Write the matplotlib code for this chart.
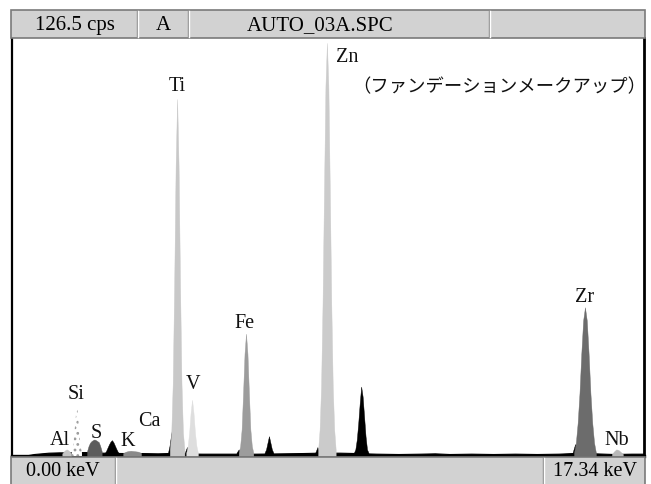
import matplotlib
matplotlib.use("Agg")
import matplotlib.pyplot as plt
from matplotlib.patches import Rectangle

# ---------------- data ----------------
full_scale_cps = 126.5
e_max_keV = 17.34
header_texts = ["126.5 cps", "A", "AUTO_03A.SPC"]
footer_texts = ["0.00 keV", "17.34 keV"]
note_text = "（ファンデーションメークアップ）"

# continuum (black)
bg_keV = [0.30, 0.60, 1.00, 1.30, 1.60, 2.00, 2.50, 3.00, 3.50, 4.00, 4.30, 4.60,
          5.20, 5.80, 6.20, 6.70, 7.40, 8.00, 8.40, 9.00, 9.40, 10.0, 10.6, 11.2,
          11.6, 12.0, 12.6, 13.2, 13.8, 14.4, 15.0, 15.4, 16.0, 16.5, 17.0, 17.34]
bg_cps = [0.0, 0.6, 1.0, 1.1, 1.1, 1.2, 1.0, 0.9, 0.9, 0.8, 0.9, 0.8,
          0.7, 0.7, 0.7, 0.7, 0.8, 0.9, 1.0, 1.0, 0.9, 0.7, 0.6, 0.7,
          0.8, 0.6, 0.7, 0.6, 0.7, 0.6, 0.7, 0.9, 0.8, 0.6, 0.7, 0.7]

# black (unassigned) peaks
k_keV = [2.54, 2.58, 2.62, 2.66, 2.70, 2.74, 2.78, 2.82, 2.86, 2.90, 2.94]
k_cps = [0.8, 1.5, 2.5, 3.5, 4.3, 4.8, 4.2, 3.2, 2.2, 1.3, 0.8]
spike1_keV = [4.28, 4.32, 4.36, 4.40, 4.44, 4.48]
spike1_cps = [1.0, 3.0, 6.0, 8.8, 6.0, 3.0]
spike2_keV = [4.74, 4.80, 4.86]
spike2_cps = [1.0, 2.7, 1.5]
fe_l_keV = [6.16, 6.22, 6.28]
fe_l_cps = [1.0, 2.0, 1.0]
feb_keV = [6.93, 6.97, 7.01, 7.05, 7.09, 7.13, 7.17]
feb_cps = [1.0, 2.0, 4.0, 6.0, 4.0, 2.0, 1.0]
zn_l_keV = [8.32, 8.38, 8.44]
zn_l_cps = [1.0, 2.7, 1.0]
znb_keV = [9.38, 9.42, 9.46, 9.50, 9.54, 9.58, 9.62, 9.66, 9.70, 9.74, 9.78]
znb_cps = [1.0, 2.0, 5.0, 10.0, 16.0, 21.0, 18.0, 12.0, 6.0, 2.0, 1.0]
zr_l_keV = [15.38, 15.45, 15.52]
zr_l_cps = [1.0, 3.6, 1.0]

# coloured element peaks
al_keV = [1.38, 1.44, 1.50, 1.56, 1.62]
al_cps = [0.8, 1.6, 2.0, 1.6, 0.8]
si_keV = [1.64, 1.68, 1.72, 1.76, 1.80, 1.84, 1.88, 1.92]
si_cps = [1.0, 3.0, 8.0, 13.0, 14.0, 8.0, 3.0, 1.0]
s_keV = [2.06, 2.10, 2.14, 2.18, 2.22, 2.26, 2.30, 2.34, 2.38, 2.42, 2.46]
s_cps = [1.5, 3.0, 4.0, 4.5, 4.8, 5.0, 4.8, 4.5, 4.2, 3.0, 1.5]
kk_keV = [3.05, 3.12, 3.19, 3.26, 3.33, 3.40, 3.47, 3.54]
kk_cps = [0.9, 1.3, 1.5, 1.6, 1.5, 1.4, 1.3, 0.9]
ti_keV = [4.33, 4.37, 4.41, 4.45, 4.49, 4.53, 4.57, 4.61, 4.65, 4.69, 4.73]
ti_cps = [2.0, 7.0, 22.0, 52.0, 88.0, 108.0, 88.0, 52.0, 22.0, 7.0, 2.0]
v_keV = [4.78, 4.82, 4.86, 4.90, 4.94, 4.98, 5.02, 5.06, 5.10]
v_cps = [1.0, 3.0, 7.0, 13.0, 17.0, 13.0, 7.0, 3.0, 1.0]
fe_keV = [6.22, 6.26, 6.30, 6.34, 6.38, 6.42, 6.46, 6.50, 6.54, 6.58, 6.62]
fe_cps = [1.0, 3.0, 8.0, 19.0, 31.0, 37.0, 31.0, 19.0, 8.0, 3.0, 1.0]
zn_keV = [8.40, 8.44, 8.48, 8.52, 8.56, 8.60, 8.64, 8.68, 8.72, 8.76, 8.80, 8.84, 8.88]
zn_cps = [2.0, 8.0, 21.0, 46.0, 80.0, 112.0, 125.0, 112.0, 80.0, 46.0, 21.0, 8.0, 2.0]
zr_keV = [15.42, 15.47, 15.52, 15.57, 15.62, 15.67, 15.72, 15.77, 15.82, 15.87, 15.92, 15.97, 16.02]
zr_cps = [1.0, 4.0, 10.0, 19.0, 31.0, 41.0, 45.0, 41.0, 31.0, 19.0, 10.0, 4.0, 1.0]
nb_keV = [16.46, 16.52, 16.58, 16.64, 16.70, 16.76]
nb_cps = [0.6, 1.4, 2.0, 1.8, 1.2, 0.6]

labels = ["Al", "Si", "S", "K", "Ca", "Ti", "V", "Fe", "Zn", "Zr", "Nb"]
label_keV = [1.32, 1.76, 2.30, 3.18, 3.76, 4.53, 4.97, 6.39, 9.19, 15.72, 16.60]
label_cps = [5.1, 18.8, 7.0, 4.8, 10.6, 112.0, 21.8, 40.5, 121.0, 48.4, 5.1]

# ---------------- figure ----------------
W, H = 651, 485
fig = plt.figure(figsize=(W / 100, H / 100), dpi=100)
fig.patch.set_facecolor("white")

serif = ["Liberation Serif", "DejaVu Serif"]

# plot axes: x 12..644 px, y 39..457 px
ax = fig.add_axes([12 / W, (H - 457) / H, 632 / W, 418 / H])
ax.set_xlim(0, e_max_keV)
ax.set_ylim(0, full_scale_cps)
ax.set_xticks([])
ax.set_yticks([])
ax.spines["top"].set_visible(False)
ax.spines["left"].set_linewidth(1.6)
ax.spines["right"].set_linewidth(2.0)
ax.spines["bottom"].set_linewidth(2.4)
for s in ["left", "right", "bottom"]:
    ax.spines[s].set_color("black")

ax.fill_between(bg_keV, bg_cps, 0, color="black", lw=0.8)

def peak(e, c, color, z=2):
    ax.fill_between(e, c, 0, color=color, lw=0.3, zorder=z)

for e, c in [(k_keV, k_cps), (spike1_keV, spike1_cps), (spike2_keV, spike2_cps),
             (fe_l_keV, fe_l_cps), (feb_keV, feb_cps), (zn_l_keV, zn_l_cps),
             (znb_keV, znb_cps), (zr_l_keV, zr_l_cps)]:
    peak(e, c, "black", z=2)

peak(al_keV, al_cps, "#c4c4c4", z=3)
plt.rcParams["hatch.linewidth"] = 1.2
ax.fill_between(si_keV, si_cps, 0, facecolor="white",
                edgecolor="#9a9a9a", hatch="...", lw=0, zorder=3)
peak(s_keV, s_cps, "#5c5c5c", z=3)
peak(kk_keV, kk_cps, "#8a8a8a", z=3)
peak(ti_keV, ti_cps, "#c8c8c8", z=3)
peak(v_keV, v_cps, "#dedede", z=3)
peak(fe_keV, fe_cps, "#9c9c9c", z=3)
peak(zn_keV, zn_cps, "#cbcbcb", z=3)
peak(zr_keV, zr_cps, "#6c6c6c", z=3)
peak(nb_keV, nb_cps, "#b8b8b8", z=3)

for t, x, y in zip(labels, label_keV, label_cps):
    ax.text(x, y, t, ha="center", va="center", fontsize=14.5, family=serif,
            color="#111111", zorder=5)

ax.text(13.36, 112.0, note_text, ha="center", va="center", fontsize=13.2,
        family=["Noto Sans CJK JP", "DejaVu Sans"], color="#111111", zorder=5)

# overlay in pixel coordinates for header / footer bars
ov = fig.add_axes([0, 0, 1, 1], zorder=10)
ov.set_xlim(0, W)
ov.set_ylim(H, 0)
ov.axis("off")
ov.patch.set_alpha(0)

bar = "#d2d2d2"
# header
ov.add_patch(Rectangle((11, 11), 634, 28, facecolor=bar, edgecolor="#7a7a7a", lw=1.2))
for xd in [137, 188, 489]:
    ov.plot([xd, xd], [12, 38], color="#8a8a8a", lw=1.0)
    ov.plot([xd + 1.2, xd + 1.2], [12, 38], color="white", lw=1.0)
ov.text(75, 25.5, header_texts[0], ha="center", va="center", fontsize=15, family=serif)
ov.text(163, 25.5, header_texts[1], ha="center", va="center", fontsize=15, family=serif)
ov.text(320, 25.5, header_texts[2], ha="center", va="center", fontsize=15, family=serif)

# footer
ov.add_patch(Rectangle((11, 458), 634, 30, facecolor=bar, edgecolor="#7a7a7a", lw=1.2))
for xd in [115, 543]:
    ov.plot([xd, xd], [459, 485], color="#8a8a8a", lw=1.0)
    ov.plot([xd + 1.2, xd + 1.2], [459, 485], color="white", lw=1.0)
ov.text(63, 472, footer_texts[0], ha="center", va="center", fontsize=14.5, family=serif)
ov.text(595, 472, footer_texts[1], ha="center", va="center", fontsize=14.5, family=serif)

fig.savefig("out.png", dpi=100)
